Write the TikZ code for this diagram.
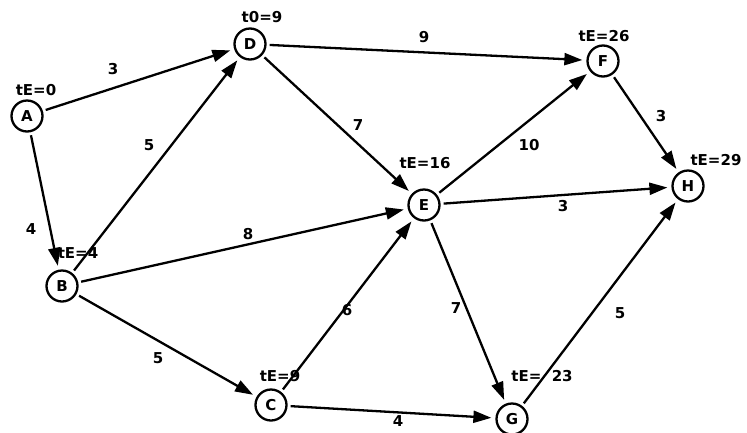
\documentclass[tikz,border=0pt]{standalone}
\usepackage{fontspec}
\setmainfont{DejaVu Sans}
\usetikzlibrary{arrows.meta}
\begin{document}
\begin{tikzpicture}[x=1pt,y=-1pt,
  event/.style={circle,draw,line width=2.3pt,minimum size=31pt,inner sep=0pt,font=\bfseries\fontsize{15}{15}\selectfont},
  act/.style={line width=2.3pt,-{Triangle[length=18pt,width=12pt]},shorten >=4pt,shorten <=3pt},
  dur/.style={font=\bfseries\fontsize{15}{15}\selectfont},
  tag/.style={font=\bfseries\fontsize{15}{15}\selectfont,inner sep=0pt}]
\useasboundingbox (0,0) rectangle (747,432);
% events
\node[event] (A) at (27,116) {A};
\node[event] (D) at (250,44) {D};
\node[event] (F) at (603,61) {F};
\node[event] (H) at (688,186) {H};
\node[event] (E) at (424,205) {E};
\node[event] (B) at (62,286) {B};
\node[event] (C) at (271,405) {C};
\node[event] (G) at (512,419) {G};
% earliest times
\node[tag] (tA) at (36,90) {tE=0};
\node[tag] (tD) at (262,17) {t0=9};
\node[tag] (tF) at (604,36) {tE=26};
\node[tag] (tH) at (716,160) {tE=29};
\node[tag] (tE) at (425,163) {tE=16};
\node[tag] (tB) at (78,253) {tE=4};
\node[tag] (tC) at (280,376) {tE=9};
\node[tag] (tG) at (542,376) {tE=\ \ 23};
% activities
\draw[act] (A) -- (D);
\draw[act] (A) -- (B);
\draw[act] (B) -- (D);
\draw[act] (B) -- (E);
\draw[act] (B) -- (C);
\draw[act] (D) -- (F);
\draw[act] (D) -- (E);
\draw[act] (C) -- (E);
\draw[act] (C) -- (G);
\draw[act] (E) -- (F);
\draw[act] (E) -- (H);
\draw[act] (E) -- (G);
\draw[act] (F) -- (H);
\draw[act] (G) -- (H);
% durations
\node[dur] (dAD) at (113,69) {3};
\node[dur] (dAB) at (31,229) {4};
\node[dur] (dBD) at (149,145) {5};
\node[dur] (dDF) at (424,37) {9};
\node[dur] (dDE) at (358,125) {7};
\node[dur] (dBE) at (248,234) {8};
\node[dur] (dEF) at (529,145) {10};
\node[dur] (dFH) at (661,116) {3};
\node[dur] (dEH) at (563,206) {3};
\node[dur] (dBC) at (158,358) {5};
\node[dur] (dCE) at (347,310) {6};
\node[dur] (dEG) at (456,308) {7};
\node[dur] (dCG) at (398,421) {4};
\node[dur] (dGH) at (620,313) {5};
\end{tikzpicture}
\end{document}
